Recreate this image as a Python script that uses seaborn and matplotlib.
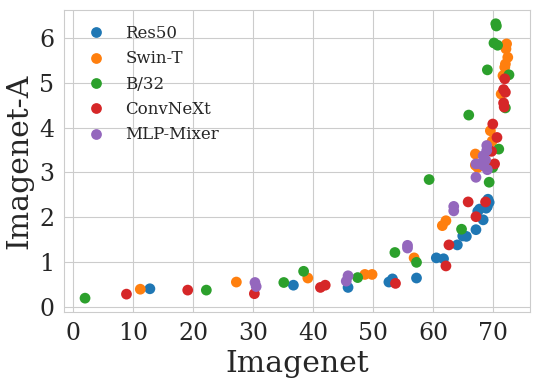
import pandas as pd
import matplotlib.pyplot as plt
import seaborn as sns
from matplotlib.ticker import MultipleLocator

# Imagenet vs Imagenet-A accuracy per model family
res50_x = [12.8, 36.7, 45.8, 52.6, 53.2, 57.2, 60.5, 61.7, 64.0, 64.9, 65.5, 67.1,
           68.3, 67.4, 67.7, 68.8, 69.0, 69.1, 69.3]
res50_y = [0.40, 0.48, 0.43, 0.55, 0.62, 0.64, 1.09, 1.07, 1.38, 1.58, 1.57, 1.72,
           1.94, 2.13, 2.18, 2.20, 2.24, 2.40, 2.33]

swin_x = [11.2, 27.2, 39.1, 48.6, 49.8, 56.8, 61.5, 62.1, 67.0, 67.0, 67.4, 69.5,
          69.8, 71.3, 71.6, 71.9, 72.0, 72.4, 72.1, 72.2]
swin_y = [0.39, 0.55, 0.64, 0.72, 0.72, 1.09, 1.81, 1.92, 3.41, 3.16, 3.11, 3.93,
          3.70, 4.75, 5.16, 5.35, 5.42, 5.57, 5.76, 5.87]

b32_x = [2.0, 22.2, 35.1, 38.4, 47.4, 53.6, 57.2, 59.3, 64.7, 65.9, 69.3, 69.0,
         69.9, 70.9, 70.4, 70.5, 70.1, 70.7, 72.6, 72.0]
b32_y = [0.19, 0.37, 0.54, 0.79, 0.65, 1.21, 0.99, 2.84, 1.73, 4.28, 2.78, 5.29,
         3.11, 3.52, 6.32, 6.27, 5.89, 5.84, 5.18, 4.44]

convnext_x = [8.9, 19.1, 30.2, 41.2, 42.0, 53.7, 62.1, 62.6, 65.8, 67.1, 68.7, 69.9,
              70.6, 69.7, 70.2, 71.9, 71.7, 72.0, 71.7, 71.8]
convnext_y = [0.28, 0.37, 0.29, 0.43, 0.48, 0.52, 0.91, 1.38, 2.34, 2.01, 2.34, 4.08,
              3.78, 3.47, 3.19, 5.09, 4.85, 4.79, 4.55, 4.46]

mixer_x = [30.3, 30.5, 45.5, 45.8, 55.7, 55.7, 63.4, 63.4, 67.1, 67.1, 68.3, 68.7,
           68.9, 68.9, 68.4, 69.0, 67.8]
mixer_y = [0.54, 0.45, 0.57, 0.69, 1.37, 1.31, 2.24, 2.14, 2.89, 3.19, 3.37, 3.28,
           3.60, 3.49, 3.15, 3.06, 3.19]

models = ['Res50', 'Swin-T', 'B/32', 'ConvNeXt', 'MLP-Mixer']
series = [(res50_x, res50_y), (swin_x, swin_y), (b32_x, b32_y),
          (convnext_x, convnext_y), (mixer_x, mixer_y)]

frames = []
for name, (xs, ys) in zip(models, series):
    frames.append(pd.DataFrame({'Imagenet': xs, 'Imagenet-A': ys, 'model': name}))
df = pd.concat(frames, ignore_index=True)

sns.set_style('whitegrid')
plt.rcParams['font.family'] = 'DejaVu Serif'

fig, ax = plt.subplots(figsize=(5.41, 3.86), dpi=100)
sns.scatterplot(data=df, x='Imagenet', y='Imagenet-A', hue='model', hue_order=models,
                palette='tab10', s=60, linewidth=0, ax=ax)
sns.move_legend(ax, 'upper left', frameon=False, title=None, fontsize=12)

ax.xaxis.set_major_locator(MultipleLocator(10))
ax.yaxis.set_major_locator(MultipleLocator(1))
ax.set_xlabel('Imagenet', fontsize=21.5)
ax.set_ylabel('Imagenet-A', fontsize=21.5)
ax.tick_params(labelsize=17)

plt.subplots_adjust(left=0.118, right=0.98, top=0.974, bottom=0.192)
plt.savefig('out.png', dpi=100)
